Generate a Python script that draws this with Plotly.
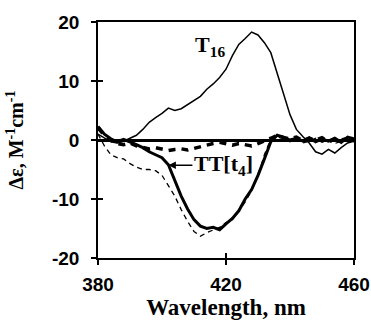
import plotly.graph_objects as go

wavelength = list(range(380, 461, 2))

t16 = [1.0, 0.3, -0.3, -0.5, -0.2, 0.3, 0.8, 1.8, 3.0, 3.8, 4.5, 5.4, 5.0, 5.3, 6.0, 6.6,
       7.4, 8.6, 9.5, 10.6, 12.0, 14.3, 16.2, 17.2, 18.3, 17.8, 16.5, 14.8, 11.5, 7.8, 4.3,
       1.8, 0.6, -0.5, -2.0, -2.4, -1.6, -2.2, -1.3, -0.5, -0.2]

tt_t4 = [2.3, 1.0, 0.2, -0.3, 0.1, -0.3, -0.8, -1.3, -2.0, -2.5, -3.0, -4.2, -6.8, -9.5,
         -11.7, -13.5, -14.6, -15.0, -14.8, -15.2, -14.2, -13.3, -12.0, -10.0, -8.4, -6.0,
         -3.2, -0.3, 0.8, 0.5, 0.0, 0.3, -0.2, 0.4, -0.3, 0.2, -0.2, 0.3, -0.4, 0.5, 0.2]

thin_dash = [1.0, -1.0, -2.5, -3.0, -3.2, -4.0, -4.6, -5.0, -5.0, -5.2, -6.0, -7.8, -9.5,
             -11.8, -13.8, -15.5, -16.3, -15.7, -15.3, -14.8, -14.0, -13.5, -12.0, -10.5,
             -8.6, -6.0, -2.5, 0.2, 0.5, 0.2, -0.3, 0.2, -0.5, -0.2, 0.3, -0.4, 0.0, -0.6,
             -0.2, 0.0, -0.3]

thick_dash = [2.0, 0.8, 0.0, -0.6, -0.8, -0.5, -1.0, -1.3, -1.5, -1.3, -1.6, -1.8, -1.6,
              -1.5, -1.7, -1.4, -1.2, -0.9, -0.6, -0.4, -0.6, -0.9, -0.6, -0.8, -1.0, -0.6,
              -0.2, 0.3, 0.8, 0.4, 0.2, 0.5, -0.1, 0.3, 0.0, 0.4, -0.3, 0.2, 0.0, 0.3, 0.0]

x_ticks = [380, 420, 460]
y_ticks = [-20, -10, 0, 10, 20]
x_range = [380, 460]
y_range = [-20, 20]

fig = go.Figure()
fig.add_trace(go.Scatter(x=wavelength, y=thin_dash, mode="lines",
                         line=dict(color="black", width=1.3, dash="5px,4px")))
fig.add_trace(go.Scatter(x=wavelength, y=thick_dash, mode="lines",
                         line=dict(color="black", width=3.5, dash="7px,6px")))
fig.add_trace(go.Scatter(x=wavelength, y=tt_t4, mode="lines",
                         line=dict(color="black", width=3)))
fig.add_trace(go.Scatter(x=wavelength, y=t16, mode="lines", xaxis="x2", yaxis="y2",
                         line=dict(color="black", width=1.5)))

tickfont = dict(family="Liberation Sans, Arial", size=19, color="black")
serif = "Liberation Serif, Times New Roman"

fig.update_layout(
    width=371, height=322,
    margin=dict(l=98, r=17, t=22, b=64),
    paper_bgcolor="white", plot_bgcolor="white",
    showlegend=False,
    xaxis=dict(range=x_range, tickmode="array", tickvals=x_ticks,
               ticktext=["<b>%d</b>" % v for v in x_ticks],
               ticks="outside", ticklen=5, tickwidth=1.5, automargin=False,
               ticklabelstandoff=3,
               tickcolor="black", showline=True, linecolor="black", linewidth=1.5,
               mirror=True, showgrid=False, zeroline=False, tickfont=tickfont,
               title=dict(text="<b>Wavelength, nm</b>",
                          font=dict(family=serif, size=23, color="black"), standoff=0)),
    yaxis=dict(range=y_range, tickmode="array", tickvals=y_ticks,
               ticktext=["<b>%d</b>" % v for v in y_ticks],
               ticks="outside", ticklen=5, tickwidth=1.5, automargin=False,
               ticklabelstandoff=8,
               tickcolor="black", showline=True, linecolor="black", linewidth=1.5,
               mirror=True, showgrid=False, zeroline=True, zerolinecolor="black",
               zerolinewidth=2.5, tickfont=tickfont,
               title=dict(text="<b>Δε, M<sup>-1</sup>cm<sup>-1</sup></b>",
                          font=dict(family=serif, size=20, color="black"), standoff=23)),
    xaxis2=dict(range=x_range, tickmode="array", tickvals=x_ticks, ticks="inside",
                ticklen=5, tickwidth=1.5, tickcolor="black", overlaying="x",
                side="bottom", showticklabels=False, automargin=False,
                showline=False, showgrid=False, zeroline=False),
    yaxis2=dict(range=y_range, tickmode="array", tickvals=y_ticks, ticks="inside",
                ticklen=5, tickwidth=1.5, tickcolor="black", overlaying="y",
                side="left", showticklabels=False, automargin=False,
                showline=False, showgrid=False, zeroline=False),
)

fig.add_annotation(x=415, y=16.0, xref="x", yref="y", showarrow=False,
                   text="<b>T<sub>16</sub></b>",
                   font=dict(family=serif, size=22, color="black"))
fig.add_annotation(x=402.0, y=-4.3, ax=409.5, ay=-4.3, axref="x", ayref="y",
                   xref="x", yref="y", showarrow=True, arrowhead=2, arrowsize=1,
                   arrowwidth=1.5, arrowcolor="black", xanchor="left",
                   text="<b>TT[t<sub>4</sub>]</b>",
                   font=dict(family=serif, size=22, color="black"))

fig.write_html("out.html", config={"displayModeBar": False},
               post_script="document.body.style.margin='0';document.body.style.overflow='hidden';")
